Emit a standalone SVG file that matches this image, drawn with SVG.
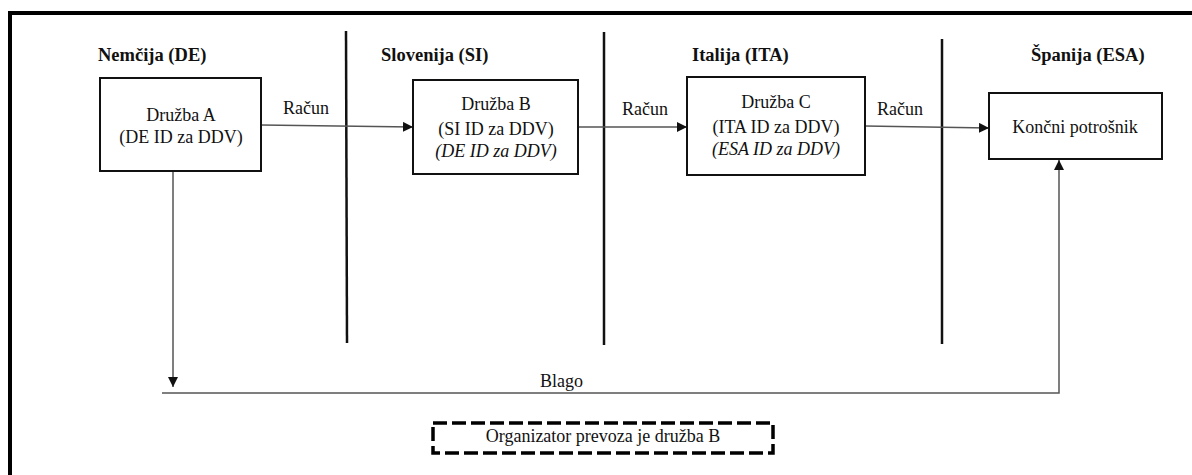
<svg xmlns="http://www.w3.org/2000/svg" width="1192" height="475" viewBox="0 0 1192 475">
<style>
.t{font-family:'Liberation Serif','DejaVu Serif',serif;font-size:18px;fill:#111;}
.h{font-family:'Liberation Serif','DejaVu Serif',serif;font-size:18.5px;font-weight:bold;fill:#111;}
.i{font-style:italic;}
.box{fill:#fff;stroke:#111;stroke-width:2;}
.sep{stroke:#111;stroke-width:2.5;fill:none;}
.con{stroke:#555;stroke-width:1.5;fill:none;}
</style>
<defs>
<marker id="arr" viewBox="0 0 10 10" refX="10" refY="5" markerWidth="10" markerHeight="10" markerUnits="userSpaceOnUse" orient="auto">
<path d="M0,0 L10,5 L0,10 z" fill="#111"/>
</marker>
</defs>
<rect x="0" y="0" width="1192" height="475" fill="#fff"/>
<rect id="frame" x="10" y="13" width="1200" height="480" fill="none" stroke="#000" stroke-width="4"/>
<g id="separators">
<line class="sep" x1="346" y1="31" x2="347" y2="343"/>
<line class="sep" x1="604" y1="32" x2="604" y2="345"/>
<line class="sep" x1="942" y1="39" x2="942" y2="344"/>
</g>
<g id="headers">
<text class="h" x="98" y="61">Nemčija (DE)</text>
<text class="h" x="381" y="61">Slovenija (SI)</text>
<text class="h" x="692" y="61">Italija (ITA)</text>
<text class="h" x="1031" y="61">Španija (ESA)</text>
</g>
<g id="connectors">
<line class="con" x1="261" y1="125" x2="413" y2="127" marker-end="url(#arr)"/>
<line class="con" x1="578" y1="127" x2="687" y2="127" marker-end="url(#arr)"/>
<line class="con" x1="865" y1="126" x2="989" y2="128" marker-end="url(#arr)"/>
<line class="con" x1="173" y1="171" x2="173" y2="387" marker-end="url(#arr)"/>
<polyline class="con" points="162,393 1059,393 1059,160" marker-end="url(#arr)"/>
<text class="t" x="283" y="114">Račun</text>
<text class="t" x="622" y="115">Račun</text>
<text class="t" x="877" y="115">Račun</text>
<text class="t" x="540" y="387">Blago</text>
</g>
<g id="druzbaA">
<rect class="box" x="100" y="78" width="161" height="93"/>
<text class="t" text-anchor="middle" x="181" y="121">Družba A</text>
<text class="t" text-anchor="middle" x="181" y="143">(DE ID za DDV)</text>
</g>
<g id="druzbaB">
<rect class="box" x="413" y="80" width="165" height="94"/>
<text class="t" text-anchor="middle" x="496" y="110">Družba B</text>
<text class="t" text-anchor="middle" x="496" y="135">(SI ID za DDV)</text>
<text class="t i" text-anchor="middle" x="496" y="157">(DE ID za DDV)</text>
</g>
<g id="druzbaC">
<rect class="box" x="687" y="77" width="178" height="98"/>
<text class="t" text-anchor="middle" x="776" y="108">Družba C</text>
<text class="t" text-anchor="middle" x="776" y="133">(ITA ID za DDV)</text>
<text class="t i" text-anchor="middle" x="776" y="155">(ESA ID za DDV)</text>
</g>
<g id="koncni">
<rect class="box" x="989" y="93" width="173" height="66"/>
<text class="t" text-anchor="middle" x="1075" y="133">Končni potrošnik</text>
</g>
<g id="note">
<rect x="433" y="423" width="340" height="30" fill="none" stroke="#000" stroke-width="3.5" stroke-dasharray="14,5"/>
<text class="t" text-anchor="middle" x="603" y="442">Organizator prevoza je družba B</text>
</g>
</svg>
